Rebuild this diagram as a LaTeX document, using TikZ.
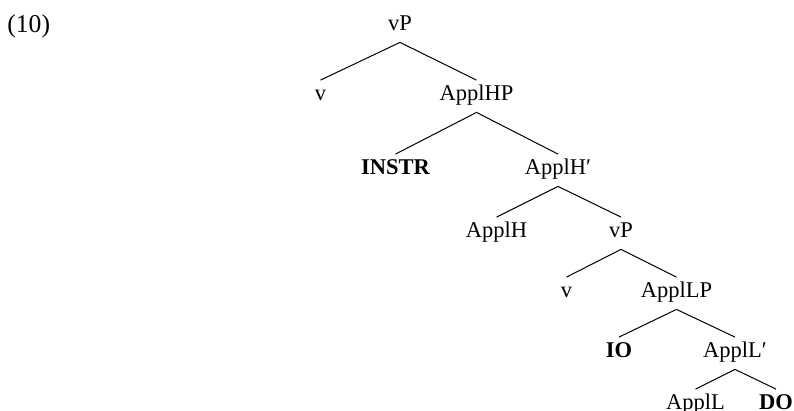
\documentclass[tikz,border=0pt]{standalone}
\usepackage{fontspec}
\setmainfont{Liberation Serif}
\begin{document}
\begin{tikzpicture}[x=0.5pt,y=-0.5pt,
  lbl/.style={anchor=base, inner xsep=1pt, inner ysep=2pt,
    text height=8.25pt, text depth=3.5pt,
    font=\fontsize{11.25}{13}\selectfont},
  hd/.style={lbl, font=\fontsize{11.25}{13}\selectfont\bfseries},
  edge/.style={line width=0.5pt}]
\useasboundingbox (0,0) rectangle (794,411);

% example number
\node[anchor=base west, inner sep=0pt, font=\fontsize{12.8}{15}\selectfont] (ex) at (7,33) {(10)};

% tree labels
\node[lbl] (vPa)    at (400,31)  {vP};
\node[lbl] (va)     at (320.5,101) {v};
\node[lbl] (ApplHP) at (476.5,101) {ApplHP};
\node[hd]  (instr)  at (395.5,175) {INSTR};
\node[lbl] (ApplHb) at (558,175) {ApplH′};
\node[lbl] (ApplH)  at (496.5,238) {ApplH};
\node[lbl] (vPb)    at (621,238) {vP};
\node[lbl] (vb)     at (566.5,298) {v};
\node[lbl] (ApplLP) at (676.5,298) {ApplLP};
\node[hd]  (io)     at (619,358) {IO};
\node[lbl] (ApplLb) at (735,358) {ApplL′};
\node[lbl] (ApplL)  at (695.5,410) {ApplL};
\node[hd]  (do)     at (776,410) {DO};

% branches
\draw[edge] (vPa.south) -- (va.north);
\draw[edge] (vPa.south) -- (ApplHP.north);
\draw[edge] (ApplHP.south) -- (instr.north);
\draw[edge] (ApplHP.south) -- (ApplHb.north);
\draw[edge] (ApplHb.south) -- (ApplH.north);
\draw[edge] (ApplHb.south) -- (vPb.north);
\draw[edge] (vPb.south) -- (vb.north);
\draw[edge] (vPb.south) -- (ApplLP.north);
\draw[edge] (ApplLP.south) -- (io.north);
\draw[edge] (ApplLP.south) -- (ApplLb.north);
\draw[edge] (ApplLb.south) -- (ApplL.north);
\draw[edge] (ApplLb.south) -- (do.north);
\end{tikzpicture}
\end{document}
